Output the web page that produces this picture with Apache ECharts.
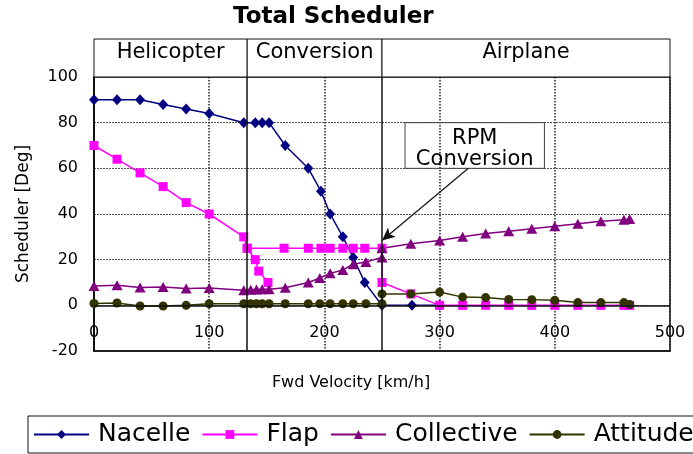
<!DOCTYPE html>
<html>
<head>
<meta charset="utf-8">
<script src="https://cdn.jsdelivr.net/npm/echarts@6/dist/echarts.min.js"></script>
<style>
  html, body { margin: 0; padding: 0; background: #fff; }
  #chart { width: 693px; height: 454px; }
</style>
</head>
<body>
<div id="chart"></div>
<script>
// Forward speed [km/h] and scheduled angles [deg]
const nacelleSpeed = [0, 20, 40, 60, 80, 100, 130, 140, 146, 152, 166, 186, 197, 205, 216, 225, 235, 250, 276, 300];
const nacelleDeg   = [90, 90, 90, 88, 86, 84, 80, 80, 80, 80, 70, 60, 50, 40, 30, 21, 10, 0, 0, 0];

const flapSpeed = [0, 20, 40, 60, 80, 100, 130, 133, 165, 186, 197, 205, 216, 225, 235, 250, 250, 275, 300, 320, 340, 360, 380, 400, 420, 440, 460, 465];
const flapDeg   = [70, 64, 58, 52, 45, 40, 30, 25, 25, 25, 25, 25, 25, 25, 25, 25, 10, 5, 0, 0, 0, 0, 0, 0, 0, 0, 0, 0];
// flap retraction branch inside the conversion corridor
const flapBranchSpeed = [133, 140, 143, 151];
const flapBranchDeg   = [25, 20, 15, 10];

const mixSpeed = [0, 20, 40, 60, 80, 100, 130, 136, 141, 146, 152, 166, 186, 196, 205, 216, 225, 236, 250, 250, 275, 300, 320, 340, 360, 380, 400, 420, 440, 460, 465];
const collectiveDeg = [8.5, 8.8, 7.8, 8, 7.4, 7.6, 6.6, 6.8, 6.9, 7, 7, 7.7, 10, 12, 14, 15.5, 18, 19, 21, 25, 27, 28.4, 30, 31.5, 32.4, 33.5, 34.6, 35.7, 36.8, 37.5, 37.8];
const attitudeDeg   = [0.8, 1, -0.3, -0.3, 0, 0.7, 0.7, 0.7, 0.7, 0.7, 0.7, 0.7, 0.7, 0.7, 0.7, 0.7, 0.7, 0.7, 0.7, 5, 5, 5.8, 3.6, 3.4, 2.6, 2.5, 2.2, 1.2, 1.2, 1.2, 0.4];

const seriesNames = ['Nacelle', 'Flap', 'Collective', 'Attitude'];

// Flight-mode bands along the speed axis
const bandNames = ['Helicopter', 'Conversion', 'Airplane'];
const bandEdges = [0, 133, 250, 500];

// RPM conversion note: box corners and arrow (speed, deg)
const noteText = 'RPM\nConversion';
const noteBox = [[270, 80], [391, 60]];
const noteArrow = [[325, 60], [250, 28.4]];

const xTicks = { min: 0, max: 500, interval: 100 };
const yTicks = { min: -20, max: 100, interval: 20 };

const FONT = 'DejaVu Sans';
const zip = (xs, ys) => xs.map((x, i) => [x, ys[i]]);

const chart = echarts.init(document.getElementById('chart'), null, { renderer: 'canvas' });

function lineSeries(name, data, color, symbol, size) {
  return {
    name: name,
    type: 'line',
    data: data,
    xAxisIndex: 0,
    yAxisIndex: 0,
    symbol: symbol,
    symbolSize: size,
    showSymbol: true,
    lineStyle: { color: color, width: 1.5 },
    itemStyle: { color: color },
    emphasis: { disabled: true },
    animation: false
  };
}

const nacelle = lineSeries('Nacelle', zip(nacelleSpeed, nacelleDeg), '#000080', 'diamond', [10, 11]);
// band dividers and the zero line
nacelle.markLine = {
  silent: true,
  symbol: ['none', 'none'],
  label: { show: false },
  lineStyle: { color: '#111', type: 'solid', width: 1.5 },
  data: bandEdges.slice(1, -1).map(v => ({ xAxis: v })).concat([{ yAxis: 0 }])
};

const flapMain = lineSeries('Flap', zip(flapSpeed, flapDeg), '#ff00ff', 'rect', 9);
const flapBranch = lineSeries('Flap', zip(flapBranchSpeed, flapBranchDeg), '#ff00ff', 'rect', 9);
const collective = lineSeries('Collective', zip(mixSpeed, collectiveDeg), '#800080', 'triangle', [11, 10]);
const attitude = lineSeries('Attitude', zip(mixSpeed, attitudeDeg), '#333300', 'circle', 9);
attitude.markArea = {
  silent: true,
  itemStyle: { color: 'transparent', borderColor: '#444', borderWidth: 1 },
  label: {
    show: true, position: 'inside', color: '#000',
    fontFamily: FONT, fontSize: 21, lineHeight: 21, offset: [0, 4]
  },
  data: [[{ coord: noteBox[0], name: noteText }, { coord: noteBox[1] }]]
};
attitude.markLine = {
  silent: true,
  symbol: ['none', 'arrow'],
  symbolSize: [9, 13],
  label: { show: false },
  lineStyle: { color: '#111', type: 'solid', width: 1.2 },
  data: [[{ coord: noteArrow[0] }, { coord: noteArrow[1] }]]
};

// Header strip with the flight-mode band labels
const header = {
  type: 'line',
  xAxisIndex: 1,
  yAxisIndex: 1,
  data: [[0, 0]],
  symbol: 'none',
  lineStyle: { width: 0 },
  silent: true,
  animation: false,
  markArea: {
    silent: true,
    itemStyle: { color: '#fff', borderColor: '#111', borderWidth: 1 },
    label: {
      show: true, position: 'inside', color: '#000',
      fontFamily: FONT, fontSize: 21, offset: [0, -5]
    },
    data: bandNames.map((n, i) => [{ xAxis: bandEdges[i], name: n }, { xAxis: bandEdges[i + 1] }])
  }
};

const option = {
  animation: false,
  backgroundColor: '#fff',
  title: {
    text: 'Total Scheduler',
    left: 233,
    top: 6,
    padding: 0,
    textStyle: { fontFamily: FONT, fontSize: 23, fontWeight: 'bold', color: '#000' }
  },
  legend: {
    data: seriesNames,
    left: 28,
    top: 416,
    width: 760,
    orient: 'horizontal',
    padding: [6, 5, 6, 5],
    itemWidth: 55,
    itemHeight: 11,
    itemGap: 11,
    borderColor: '#111',
    borderWidth: 1,
    textStyle: { fontFamily: FONT, fontSize: 25, color: '#000', padding: [0, 0, 0, 4] }
  },
  grid: [
    { left: 94, top: 77, width: 576, height: 274, show: true, borderColor: '#111', borderWidth: 1.5, backgroundColor: '#fff' },
    { left: 94, top: 39, width: 576, height: 38 }
  ],
  xAxis: [
    {
      type: 'value', gridIndex: 0,
      min: xTicks.min, max: xTicks.max, interval: xTicks.interval,
      axisLine: { show: true, onZero: false, lineStyle: { color: '#111', width: 1.5 } },
      axisTick: { show: false },
      // tick labels sit just under the zero line, inside the plot
      axisLabel: { margin: -26, fontFamily: FONT, fontSize: 16, color: '#000' },
      splitLine: { show: true, lineStyle: { color: '#222', width: 1.5, type: [1.5, 1.5] } },
      name: 'Fwd Velocity [km/h]',
      nameLocation: 'middle',
      nameGap: 24,
      nameTextStyle: { fontFamily: FONT, fontSize: 16, color: '#000', padding: [0, 62, 0, 0] }
    },
    { type: 'value', gridIndex: 1, min: 0, max: 500, show: false }
  ],
  yAxis: [
    {
      type: 'value', gridIndex: 0,
      min: yTicks.min, max: yTicks.max, interval: yTicks.interval,
      axisLine: { show: true, onZero: false, lineStyle: { color: '#111', width: 2 } },
      axisTick: { show: false },
      axisLabel: { margin: 16, fontFamily: FONT, fontSize: 16, color: '#000' },
      splitLine: { show: true, lineStyle: { color: '#555', width: 1, type: [2, 1] } },
      name: 'Scheduler [Deg]',
      nameLocation: 'middle',
      nameRotate: 90,
      nameGap: 62,
      nameTextStyle: { fontFamily: FONT, fontSize: 17, color: '#000' }
    },
    { type: 'value', gridIndex: 1, min: 0, max: 1, show: false }
  ],
  series: [header, nacelle, flapMain, flapBranch, collective, attitude]
};

chart.setOption(option);
</script>
</body>
</html>
